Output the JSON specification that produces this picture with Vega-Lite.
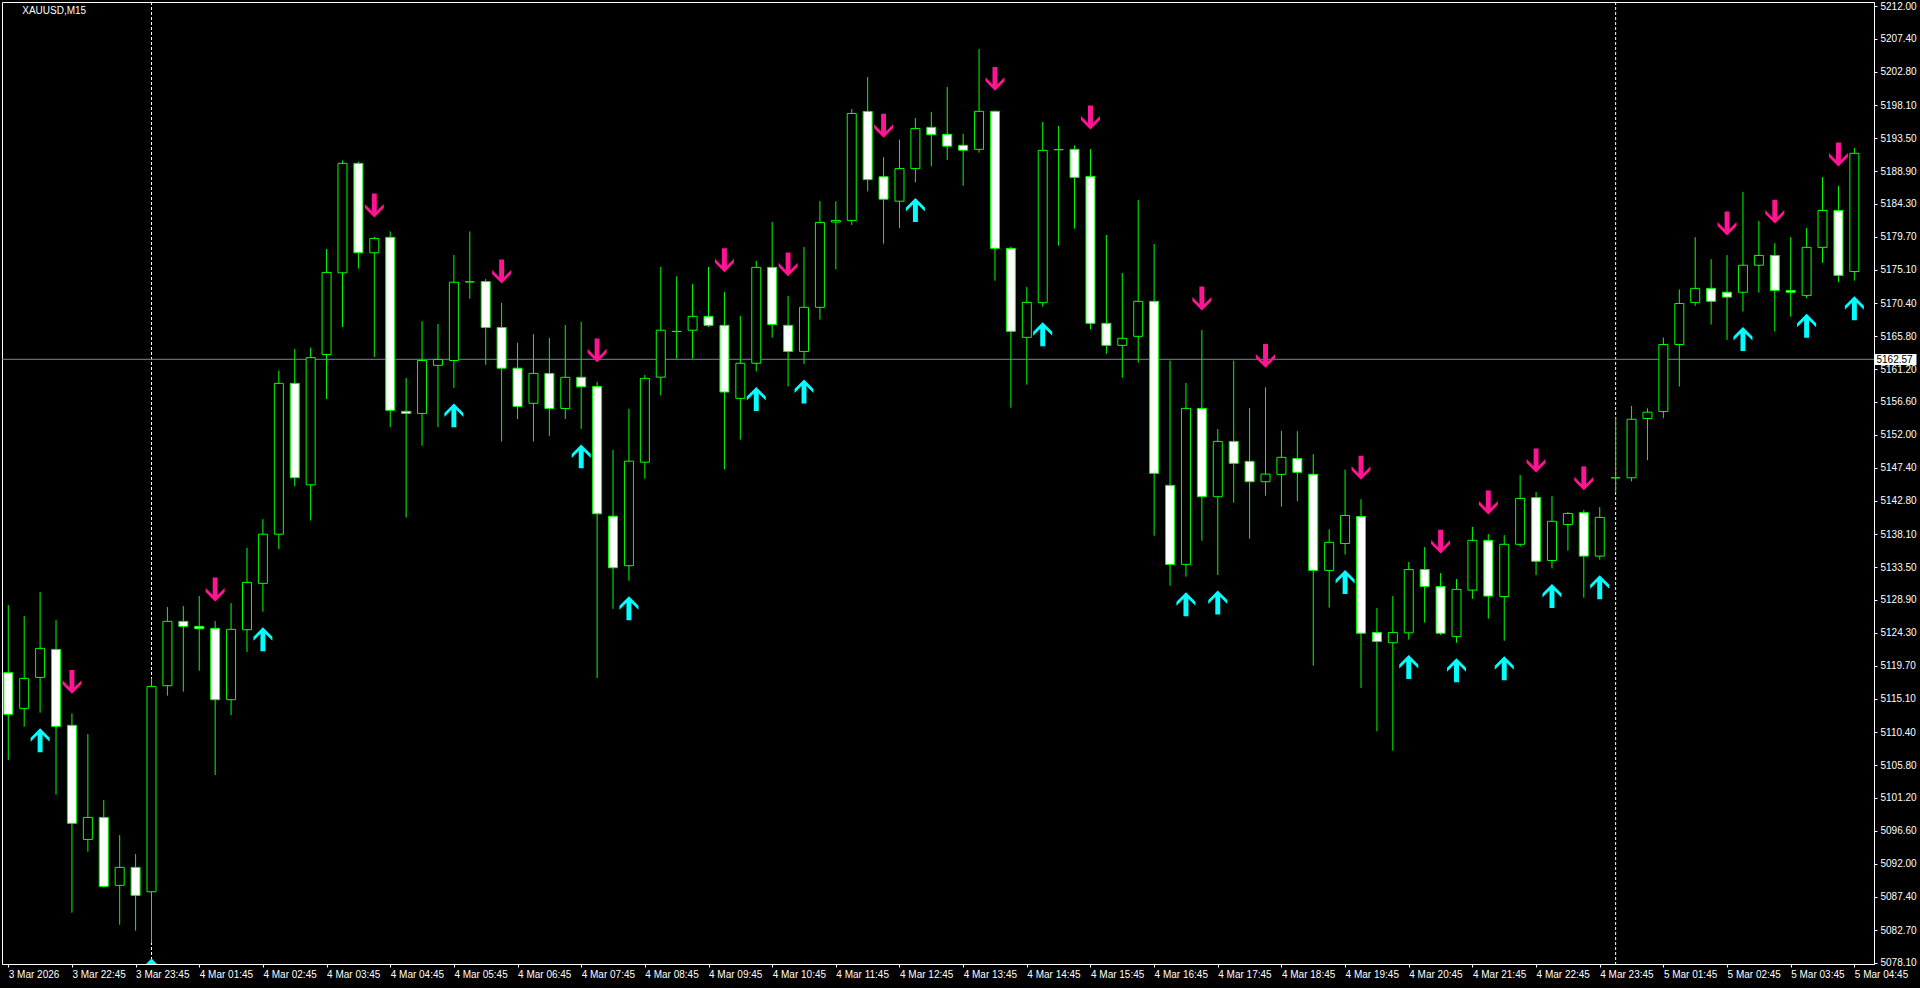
{
  "$schema": "https://vega.github.io/schema/vega-lite/v6.json",
  "width": 1872,
  "height": 962,
  "autosize": {"type": "none"},
  "padding": {"left": 2, "top": 2, "right": 46, "bottom": 24},
  "background": "black",
  "config": {"view": {"stroke": "white", "strokeWidth": 1}, "axis": {"grid": false}},
  "datasets": {
    "candles": [
      {"i":0,"o":5118.72,"h":5128.18,"l":5106.50,"c":5112.89},
      {"i":1,"o":5113.73,"h":5126.64,"l":5111.16,"c":5117.92},
      {"i":2,"o":5118.06,"h":5130.00,"l":5113.12,"c":5122.12,"s":"u"},
      {"i":3,"o":5121.98,"h":5126.08,"l":5101.65,"c":5111.21},
      {"i":4,"o":5111.35,"h":5113.03,"l":5085.14,"c":5097.64,"s":"d"},
      {"i":5,"o":5095.39,"h":5110.13,"l":5093.67,"c":5098.47},
      {"i":6,"o":5098.47,"h":5100.90,"l":5088.68,"c":5088.82},
      {"i":7,"o":5088.96,"h":5095.99,"l":5083.46,"c":5091.48},
      {"i":8,"o":5091.48,"h":5093.34,"l":5082.62,"c":5087.56},
      {"i":9,"o":5088.07,"h":5117.92,"l":5080.90,"c":5116.80,"s":"u"},
      {"i":10,"o":5116.90,"h":5127.90,"l":5115.50,"c":5125.90},
      {"i":11,"o":5125.90,"h":5128.04,"l":5116.06,"c":5125.20},
      {"i":12,"o":5125.20,"h":5129.44,"l":5118.99,"c":5124.87},
      {"i":13,"o":5124.92,"h":5125.94,"l":5104.40,"c":5114.94,"s":"d"},
      {"i":14,"o":5114.94,"h":5128.46,"l":5112.79,"c":5124.78},
      {"i":15,"o":5124.73,"h":5136.20,"l":5121.61,"c":5131.36},
      {"i":16,"o":5131.22,"h":5140.20,"l":5127.25,"c":5138.10,"s":"u"},
      {"i":17,"o":5138.10,"h":5161.00,"l":5136.00,"c":5159.20},
      {"i":18,"o":5159.20,"h":5164.00,"l":5144.80,"c":5146.00},
      {"i":19,"o":5145.00,"h":5164.20,"l":5140.00,"c":5162.80},
      {"i":20,"o":5163.24,"h":5178.01,"l":5157.00,"c":5174.72},
      {"i":21,"o":5174.67,"h":5190.38,"l":5167.07,"c":5189.98},
      {"i":22,"o":5189.98,"h":5190.20,"l":5175.26,"c":5177.47},
      {"i":23,"o":5177.47,"h":5179.68,"l":5162.89,"c":5179.48,"s":"d"},
      {"i":24,"o":5179.63,"h":5180.46,"l":5153.08,"c":5155.43},
      {"i":25,"o":5155.29,"h":5159.95,"l":5140.42,"c":5154.99},
      {"i":26,"o":5154.99,"h":5167.90,"l":5150.48,"c":5162.40},
      {"i":27,"o":5161.72,"h":5167.51,"l":5153.08,"c":5162.55},
      {"i":28,"o":5162.40,"h":5177.17,"l":5158.57,"c":5173.35,"s":"u"},
      {"i":29,"o":5173.40,"h":5180.46,"l":5171.04,"c":5173.40},
      {"i":30,"o":5173.44,"h":5173.79,"l":5161.81,"c":5167.02},
      {"i":31,"o":5167.02,"h":5170.45,"l":5151.07,"c":5161.32,"s":"d"},
      {"i":32,"o":5161.32,"h":5164.86,"l":5154.21,"c":5155.97},
      {"i":33,"o":5156.41,"h":5166.08,"l":5151.07,"c":5160.59},
      {"i":34,"o":5160.59,"h":5165.54,"l":5151.85,"c":5155.68},
      {"i":35,"o":5155.68,"h":5167.36,"l":5154.21,"c":5160.05},
      {"i":36,"o":5160.05,"h":5167.80,"l":5152.83,"c":5158.72,"s":"u"},
      {"i":37,"o":5158.77,"h":5159.41,"l":5117.98,"c":5140.95,"s":"d"},
      {"i":38,"o":5140.61,"h":5149.89,"l":5127.65,"c":5133.40},
      {"i":39,"o":5133.69,"h":5155.63,"l":5131.58,"c":5148.32,"s":"u"},
      {"i":40,"o":5148.17,"h":5160.39,"l":5145.86,"c":5159.90},
      {"i":41,"o":5160.07,"h":5175.49,"l":5157.50,"c":5166.64},
      {"i":42,"o":5166.47,"h":5174.18,"l":5162.64,"c":5166.47},
      {"i":43,"o":5166.64,"h":5173.09,"l":5162.64,"c":5168.58},
      {"i":44,"o":5168.58,"h":5175.49,"l":5167.10,"c":5167.32},
      {"i":45,"o":5167.32,"h":5172.01,"l":5147.16,"c":5157.99,"s":"d"},
      {"i":46,"o":5157.10,"h":5168.64,"l":5151.33,"c":5162.01},
      {"i":47,"o":5162.01,"h":5176.35,"l":5160.87,"c":5175.43,"s":"u"},
      {"i":48,"o":5175.43,"h":5181.77,"l":5165.61,"c":5167.44},
      {"i":49,"o":5167.32,"h":5171.44,"l":5158.76,"c":5163.67,"s":"d"},
      {"i":50,"o":5163.67,"h":5178.29,"l":5161.90,"c":5169.84,"s":"u"},
      {"i":51,"o":5169.84,"h":5184.69,"l":5168.12,"c":5181.72},
      {"i":52,"o":5181.77,"h":5184.69,"l":5175.15,"c":5182.00},
      {"i":53,"o":5182.00,"h":5197.59,"l":5181.37,"c":5196.96},
      {"i":54,"o":5197.25,"h":5202.05,"l":5186.06,"c":5187.71},
      {"i":55,"o":5188.11,"h":5190.85,"l":5178.75,"c":5184.97,"s":"d"},
      {"i":56,"o":5184.69,"h":5193.31,"l":5180.92,"c":5189.25},
      {"i":57,"o":5189.25,"h":5196.33,"l":5187.31,"c":5194.85,"s":"u"},
      {"i":58,"o":5195.02,"h":5197.19,"l":5189.59,"c":5193.99},
      {"i":59,"o":5194.05,"h":5200.67,"l":5190.45,"c":5192.39},
      {"i":60,"o":5192.51,"h":5194.11,"l":5186.85,"c":5191.82},
      {"i":61,"o":5191.94,"h":5205.98,"l":5191.48,"c":5197.26},
      {"i":62,"o":5197.26,"h":5197.40,"l":5173.57,"c":5178.09,"s":"d"},
      {"i":63,"o":5178.09,"h":5178.32,"l":5155.80,"c":5166.48},
      {"i":64,"o":5165.64,"h":5172.68,"l":5159.02,"c":5170.53},
      {"i":65,"o":5170.49,"h":5195.77,"l":5169.93,"c":5191.80,"s":"u"},
      {"i":66,"o":5191.90,"h":5195.21,"l":5178.46,"c":5191.90},
      {"i":67,"o":5191.94,"h":5192.50,"l":5180.84,"c":5188.02},
      {"i":68,"o":5188.16,"h":5191.99,"l":5166.76,"c":5167.60,"s":"d"},
      {"i":69,"o":5167.60,"h":5179.96,"l":5163.35,"c":5164.52},
      {"i":70,"o":5164.52,"h":5174.64,"l":5159.99,"c":5165.50},
      {"i":71,"o":5165.78,"h":5184.85,"l":5162.09,"c":5170.68},
      {"i":72,"o":5170.68,"h":5178.70,"l":5137.89,"c":5146.61},
      {"i":73,"o":5144.93,"h":5162.37,"l":5130.89,"c":5133.87},
      {"i":74,"o":5133.87,"h":5159.25,"l":5132.15,"c":5155.70,"s":"u"},
      {"i":75,"o":5155.70,"h":5166.66,"l":5137.19,"c":5143.34,"s":"d"},
      {"i":76,"o":5143.34,"h":5152.81,"l":5132.38,"c":5151.08,"s":"u"},
      {"i":77,"o":5151.08,"h":5162.37,"l":5142.50,"c":5148.01},
      {"i":78,"o":5148.29,"h":5155.75,"l":5137.47,"c":5145.44},
      {"i":79,"o":5145.44,"h":5158.64,"l":5143.48,"c":5146.51,"s":"d"},
      {"i":80,"o":5146.47,"h":5152.53,"l":5141.94,"c":5148.85},
      {"i":81,"o":5148.69,"h":5152.51,"l":5142.72,"c":5146.76},
      {"i":82,"o":5146.48,"h":5149.30,"l":5119.70,"c":5133.03},
      {"i":83,"o":5133.03,"h":5138.79,"l":5127.83,"c":5136.96},
      {"i":84,"o":5136.80,"h":5147.14,"l":5135.25,"c":5140.72,"s":"u"},
      {"i":85,"o":5140.56,"h":5142.99,"l":5116.60,"c":5124.24,"s":"d"},
      {"i":86,"o":5124.35,"h":5127.78,"l":5110.52,"c":5123.08},
      {"i":87,"o":5122.91,"h":5129.44,"l":5107.81,"c":5124.35},
      {"i":88,"o":5124.29,"h":5134.20,"l":5123.35,"c":5133.15,"s":"u"},
      {"i":89,"o":5133.15,"h":5136.30,"l":5125.73,"c":5130.77},
      {"i":90,"o":5130.77,"h":5132.65,"l":5124.00,"c":5124.24,"s":"d"},
      {"i":91,"o":5123.80,"h":5131.82,"l":5122.91,"c":5130.38,"s":"u"},
      {"i":92,"o":5130.27,"h":5139.12,"l":5129.05,"c":5137.24},
      {"i":93,"o":5137.24,"h":5138.12,"l":5126.28,"c":5129.44,"s":"d"},
      {"i":94,"o":5129.38,"h":5137.96,"l":5123.19,"c":5136.68,"s":"u"},
      {"i":95,"o":5136.68,"h":5146.37,"l":5136.35,"c":5143.10},
      {"i":96,"o":5143.21,"h":5143.99,"l":5132.37,"c":5134.31,"s":"d"},
      {"i":97,"o":5134.42,"h":5143.44,"l":5133.31,"c":5139.90,"s":"u"},
      {"i":98,"o":5139.45,"h":5141.22,"l":5135.80,"c":5141.00},
      {"i":99,"o":5141.11,"h":5141.50,"l":5129.22,"c":5135.03,"s":"d"},
      {"i":100,"o":5135.03,"h":5141.89,"l":5134.53,"c":5140.45,"s":"u"},
      {"i":101,"o":5145.99,"h":5154.43,"l":5144.03,"c":5145.99},
      {"i":102,"o":5145.99,"h":5156.05,"l":5145.50,"c":5154.18},
      {"i":103,"o":5154.28,"h":5155.71,"l":5148.44,"c":5155.17},
      {"i":104,"o":5155.26,"h":5165.62,"l":5154.33,"c":5164.64},
      {"i":105,"o":5164.64,"h":5172.34,"l":5158.75,"c":5170.38},
      {"i":106,"o":5170.53,"h":5179.66,"l":5170.04,"c":5172.49},
      {"i":107,"o":5172.49,"h":5176.57,"l":5167.44,"c":5170.68},
      {"i":108,"o":5171.95,"h":5177.15,"l":5165.28,"c":5171.27,"s":"d"},
      {"i":109,"o":5171.95,"h":5185.99,"l":5169.25,"c":5175.73,"s":"u"},
      {"i":110,"o":5175.73,"h":5181.92,"l":5171.90,"c":5177.10},
      {"i":111,"o":5177.10,"h":5178.82,"l":5166.46,"c":5172.20,"s":"d"},
      {"i":112,"o":5172.20,"h":5179.66,"l":5168.52,"c":5171.95},
      {"i":113,"o":5171.51,"h":5180.93,"l":5171.12,"c":5178.23,"s":"u"},
      {"i":114,"o":5178.23,"h":5188.05,"l":5176.07,"c":5183.39},
      {"i":115,"o":5183.39,"h":5186.82,"l":5173.37,"c":5174.31,"s":"d"},
      {"i":116,"o":5174.85,"h":5192.12,"l":5173.57,"c":5191.39,"s":"u"}
    ]
  },
  "layer": [
    {
      "data": {"values": [{"i": 9}, {"i": 101}]},
      "mark": {"type": "rule", "color": "white", "strokeWidth": 1, "strokeDash": [3, 2]},
      "encoding": {
        "x": {"field": "i", "type": "quantitative", "scale": {"domain": [-0.08, 116.92], "nice": false, "zero": false},
          "axis": {"values": [0,4,8,12,16,20,24,28,32,36,40,44,48,52,56,60,64,68,72,76,80,84,88,92,96,100,104,108,112,116],
            "labelExpr": "['3 Mar 2026','3 Mar 22:45','3 Mar 23:45','4 Mar 01:45','4 Mar 02:45','4 Mar 03:45','4 Mar 04:45','4 Mar 05:45','4 Mar 06:45','4 Mar 07:45','4 Mar 08:45','4 Mar 09:45','4 Mar 10:45','4 Mar 11:45','4 Mar 12:45','4 Mar 13:45','4 Mar 14:45','4 Mar 15:45','4 Mar 16:45','4 Mar 17:45','4 Mar 18:45','4 Mar 19:45','4 Mar 20:45','4 Mar 21:45','4 Mar 22:45','4 Mar 23:45','5 Mar 01:45','5 Mar 02:45','5 Mar 03:45','5 Mar 04:45'][round(datum.value/4)]",
            "title": null, "grid": false, "domainColor": "white", "tickColor": "white", "tickSize": 3,
            "labelColor": "white", "labelFont": "Liberation Sans", "labelFontSize": 10, "labelAlign": "left",
            "labelPadding": 2, "labelOverlap": false, "labelFlush": false, "labelBound": false}}
      }
    },
    {
      "data": {"values": [{"p": 5162.57}]},
      "mark": {"type": "rule", "color": "#778899", "strokeWidth": 1},
      "encoding": {
        "y": {"field": "p", "type": "quantitative", "scale": {"domain": [5077.96, 5212.56], "nice": false, "zero": false},
          "axis": {"orient": "right", "values": [5162.57], "format": ".2f", "title": null, "grid": false, "domain": false,
            "tickColor": "white", "tickSize": 42, "tickWidth": 11, "labelColor": "black", "labelFont": "Liberation Sans",
            "labelFontSize": 10, "labelPadding": -40, "labelOverlap": false, "labelFlush": false}}
      }
    },
    {
      "data": {"name": "candles"},
      "mark": {"type": "rule", "color": "#00ff00", "strokeWidth": 1, "clip": true},
      "encoding": {
        "x": {"field": "i", "type": "quantitative", "scale": {"domain": [-0.08, 116.92], "nice": false, "zero": false}},
        "y": {"field": "l", "type": "quantitative", "scale": {"domain": [5077.96, 5212.56], "nice": false, "zero": false},
          "axis": {"orient": "right",
            "values": [5212.0,5207.4,5202.8,5198.1,5193.5,5188.9,5184.3,5179.7,5175.1,5170.4,5165.8,5161.2,5156.6,5152.0,5147.4,5142.8,5138.1,5133.5,5128.9,5124.3,5119.7,5115.1,5110.4,5105.8,5101.2,5096.6,5092.0,5087.4,5082.7,5078.1],
            "format": ".2f", "title": null, "grid": false, "domainColor": "white", "tickColor": "white", "tickSize": 3,
            "labelColor": "white", "labelFont": "Liberation Sans", "labelFontSize": 10, "labelPadding": 3,
            "labelOverlap": false, "labelFlush": false, "labelBound": false}},
        "y2": {"field": "h"}
      }
    },
    {
      "data": {"name": "candles"},
      "mark": {"type": "bar", "width": 9, "stroke": "#00ff00", "strokeWidth": 1, "clip": true},
      "encoding": {
        "x": {"field": "i", "type": "quantitative", "scale": {"domain": [-0.08, 116.92], "nice": false, "zero": false}},
        "y": {"field": "o", "type": "quantitative", "scale": {"domain": [5077.96, 5212.56], "nice": false, "zero": false}, "axis": null},
        "y2": {"field": "c"},
        "fill": {"condition": {"test": "datum.c < datum.o", "value": "white"}, "value": "black"}
      }
    },
    {
      "data": {"name": "candles"},
      "transform": [{"filter": "datum.s === 'u'"}],
      "mark": {"type": "point", "shape": "M0,-1.26L1,-0.26L1,0.16L0.26,-0.58L0.26,1.26L-0.26,1.26L-0.26,-0.58L-1,0.16L-1,-0.26Z",
        "size": 361, "filled": true, "color": "#00ffff", "opacity": 1, "strokeWidth": 0, "yOffset": 27.5, "clip": true},
      "encoding": {
        "x": {"field": "i", "type": "quantitative", "scale": {"domain": [-0.08, 116.92], "nice": false, "zero": false}},
        "y": {"field": "l", "type": "quantitative", "scale": {"domain": [5077.96, 5212.56], "nice": false, "zero": false}, "axis": null}
      }
    },
    {
      "data": {"name": "candles"},
      "transform": [{"filter": "datum.s === 'd'"}],
      "mark": {"type": "point", "shape": "M0,1.26L1,0.26L1,-0.16L0.26,0.58L0.26,-1.26L-0.26,-1.26L-0.26,0.58L-1,-0.16L-1,0.26Z",
        "size": 361, "filled": true, "color": "#ff1493", "opacity": 1, "strokeWidth": 0, "yOffset": -31.5, "clip": true},
      "encoding": {
        "x": {"field": "i", "type": "quantitative", "scale": {"domain": [-0.08, 116.92], "nice": false, "zero": false}},
        "y": {"field": "h", "type": "quantitative", "scale": {"domain": [5077.96, 5212.56], "nice": false, "zero": false}, "axis": null}
      }
    },
    {
      "data": {"values": [{"sym": "XAUUSD,M15"}]},
      "mark": {"type": "text", "align": "left", "baseline": "middle", "dx": 14, "dy": 5, "color": "white", "font": "Liberation Sans", "fontSize": 10},
      "encoding": {
        "x": {"datum": 0, "type": "quantitative", "scale": {"domain": [-0.08, 116.92], "nice": false, "zero": false}},
        "y": {"datum": 5212, "type": "quantitative", "scale": {"domain": [5077.96, 5212.56], "nice": false, "zero": false}, "axis": null},
        "text": {"field": "sym"}
      }
    }
  ],
  "resolve": {"axis": {"y": "independent"}}
}
